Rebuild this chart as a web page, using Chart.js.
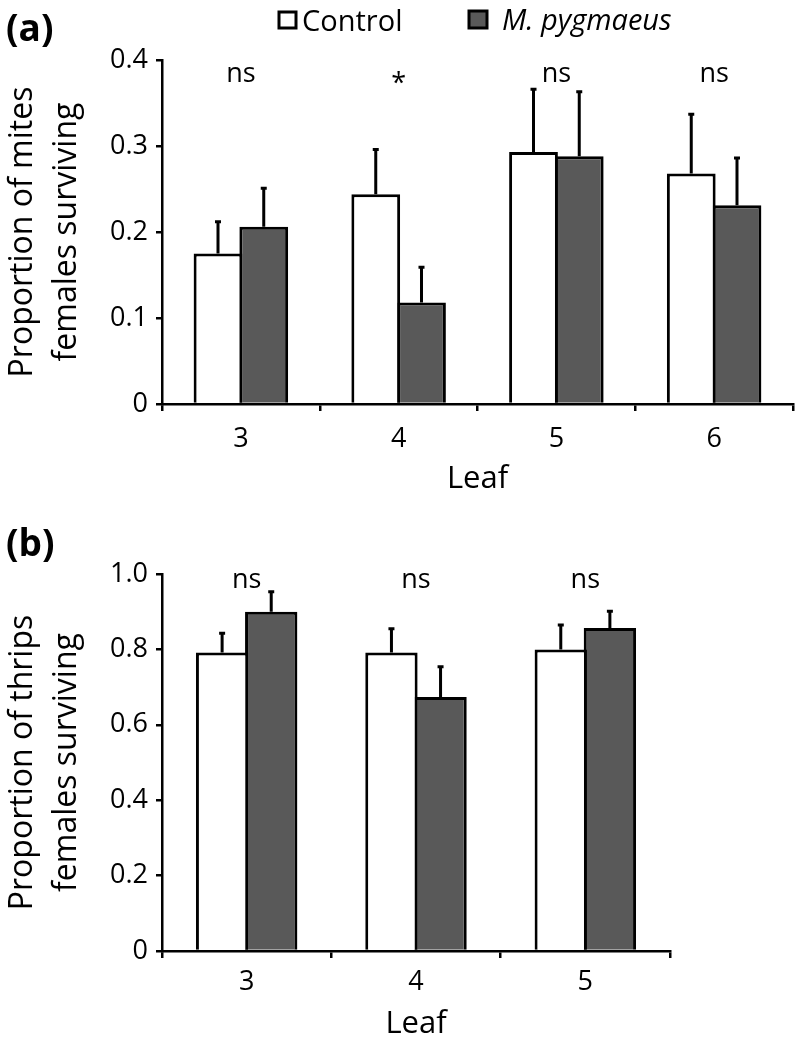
<!DOCTYPE html>
<html>
<head>
<meta charset="utf-8">
<script src="https://cdn.jsdelivr.net/npm/chart.js@4.4.1/dist/chart.umd.min.js"></script>
<style>
  html, body { margin: 0; padding: 0; background: #fff; }
  #wrap { position: relative; width: 796px; height: 1048px; overflow: hidden; }
  canvas { position: absolute; left: 0; }
  #chart-a { top: 0; }
  #chart-b { top: 520px; }
</style>
</head>
<body>
<div id="wrap">
  <canvas id="chart-a" width="796" height="520"></canvas>
  <canvas id="chart-b" width="796" height="528"></canvas>
</div>
<script>
// (a) mites
const leavesA = ['3', '4', '5', '6'];
const controlA = [0.175, 0.244, 0.293, 0.268];
const controlErrA = [0.037, 0.052, 0.073, 0.069];
const pygA = [0.206, 0.118, 0.288, 0.231];
const pygErrA = [0.045, 0.041, 0.075, 0.055];
const sigA = ['ns', '*', 'ns', 'ns'];
const yTicksA = ['0', '0.1', '0.2', '0.3', '0.4'];

// (b) thrips
const leavesB = ['3', '4', '5'];
const controlB = [0.792, 0.792, 0.800];
const controlErrB = [0.051, 0.063, 0.065];
const pygB = [0.900, 0.674, 0.857];
const pygErrB = [0.053, 0.080, 0.044];
const sigB = ['ns', 'ns', 'ns'];
const yTicksB = ['0', '0.2', '0.4', '0.6', '0.8', '1.0'];

const DARK = '#595959';
const FONT = "'Open Sans', sans-serif";
Chart.defaults.font.family = FONT;
Chart.defaults.color = '#000';

// error bars, "ns"/"*" labels, panel letter and legend
const extras = {
  id: 'extras',
  afterDatasetsDraw(chart, args, o) {
    const { ctx, chartArea, scales: { x, y } } = chart;
    ctx.save();
    ctx.strokeStyle = '#000';
    ctx.lineWidth = 3;
    chart.data.datasets.forEach((ds, i) => {
      chart.getDatasetMeta(i).data.forEach((bar, j) => {
        const top = y.getPixelForValue(ds.data[j] + ds.errors[j]);
        ctx.beginPath();
        ctx.moveTo(bar.x, bar.y);
        ctx.lineTo(bar.x, top);
        ctx.moveTo(bar.x - 3, top);
        ctx.lineTo(bar.x + 3, top);
        ctx.stroke();
      });
    });

    ctx.fillStyle = '#000';
    ctx.textAlign = 'center';
    ctx.textBaseline = 'alphabetic';
    ctx.font = '27px ' + FONT;
    o.sig.forEach((s, j) => {
      const dy = s === '*' ? 10 : 0;
      ctx.fillText(s, x.getPixelForValue(j), chartArea.top + o.sigOffset + dy);
    });

    ctx.textAlign = 'left';
    ctx.font = 'bold 37px ' + FONT;
    ctx.fillText(o.panel, 6, o.panelBaseline);

    if (o.legend) {
      ctx.lineWidth = 3;
      ctx.fillStyle = '#fff';
      ctx.fillRect(279, 12, 17, 16);
      ctx.strokeRect(279, 12, 17, 16);
      ctx.fillStyle = '#000';
      ctx.font = '29px ' + FONT;
      ctx.fillText('Control', 302, 31);
      ctx.fillStyle = DARK;
      ctx.fillRect(469, 11, 18, 17);
      ctx.strokeRect(469, 11, 18, 17);
      ctx.fillStyle = '#000';
      ctx.font = 'italic 29px ' + FONT;
      ctx.fillText('M. pygmaeus', 502, 30);
    }
    ctx.restore();
  }
};

function buildChart(id, o) {
  const barOpts = { borderColor: '#000', borderWidth: 3, categoryPercentage: 0.58, barPercentage: 1.066 };
  return new Chart(document.getElementById(id), {
    type: 'bar',
    data: {
      labels: o.labels,
      datasets: [
        Object.assign({ label: 'Control', data: o.control, errors: o.controlErr, backgroundColor: '#fff' }, barOpts),
        Object.assign({ label: 'M. pygmaeus', data: o.pyg, errors: o.pygErr, backgroundColor: DARK }, barOpts)
      ]
    },
    options: {
      responsive: false,
      animation: false,
      layout: { padding: { top: o.padTop, right: o.padRight, left: 0, bottom: 0 } },
      plugins: {
        legend: { display: false },
        tooltip: { enabled: false },
        extras: { sig: o.sig, sigOffset: o.sigOffset, panel: o.panel, panelBaseline: o.panelBaseline, legend: o.legend }
      },
      scales: {
        x: {
          grid: { offset: true, drawOnChartArea: false, tickLength: 7, color: '#000', lineWidth: 2.5 },
          border: { color: '#000', width: 2.5 },
          ticks: { font: { size: 27 }, padding: o.xPad, color: '#000' },
          title: { display: true, text: 'Leaf', font: { size: 31 }, padding: { top: 0, bottom: o.titlePad }, color: '#000' },
          afterFit: s => { s.height = o.xHeight; }
        },
        y: {
          min: 0, max: o.yMax,
          grid: { drawOnChartArea: false, tickLength: 6, color: '#000', lineWidth: 2.5 },
          border: { color: '#000', width: 2.5 },
          ticks: { stepSize: o.step, font: { size: 27 }, padding: 8, color: '#000', callback: (v, i) => o.yTicks[i] },
          title: { display: true, text: o.yTitle, font: { size: 32, lineHeight: 1.4 }, padding: 0, color: '#000' },
          afterFit: s => { s.width = 162; }
        }
      }
    },
    plugins: [extras]
  });
}

buildChart('chart-a', {
  labels: leavesA, control: controlA, controlErr: controlErrA, pyg: pygA, pygErr: pygErrA,
  sig: sigA, sigOffset: 22, panel: '(a)', panelBaseline: 41, legend: true,
  yTicks: yTicksA, yMax: 0.4, step: 0.1,
  yTitle: ['Proportion of mites', 'females surviving'],
  padTop: 60, padRight: 3, xHeight: 116, xPad: 12, titlePad: 22
});

buildChart('chart-b', {
  labels: leavesB, control: controlB, controlErr: controlErrB, pyg: pygB, pygErr: pygErrB,
  sig: sigB, sigOffset: 14, panel: '(b)', panelBaseline: 36, legend: false,
  yTicks: yTicksB, yMax: 1.0, step: 0.2,
  yTitle: ['Proportion of thrips', 'females surviving'],
  padTop: 54, padRight: 126, xHeight: 97, xPad: 8, titlePad: 5
});
</script>
</body>
</html>
